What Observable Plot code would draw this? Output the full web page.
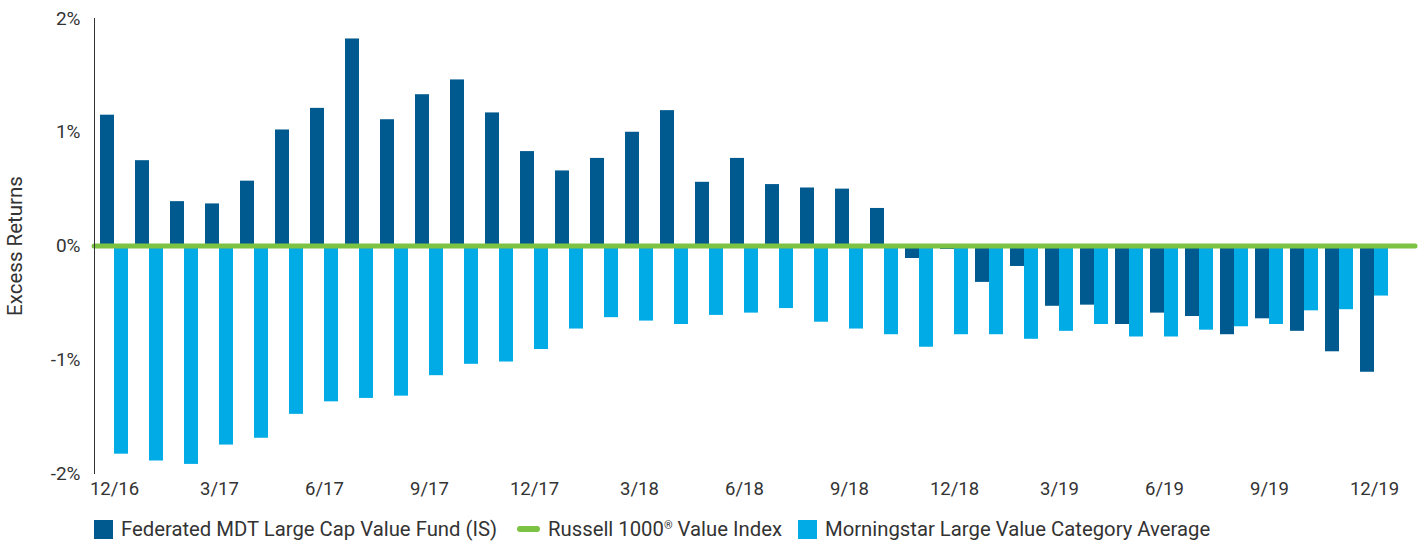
<!DOCTYPE html>
<html>
<head>
<meta charset="utf-8">
<script src="https://cdn.jsdelivr.net/npm/d3@7"></script>
<script src="https://cdn.jsdelivr.net/npm/@observablehq/plot@0.6"></script>
<style>
  html, body { margin: 0; padding: 0; background: #fff; }
  #chart svg { display: block; }
  #legend { display: flex; align-items: center; padding-left: 94px; margin-top: 12px; font-family: Roboto, sans-serif; font-size: 20.3px; color: #333; white-space: nowrap; }
  #legend .sw { display: inline-block; width: 19px; height: 19px; margin-right: 8px; }
  #legend .ln { display: inline-block; width: 23px; height: 6px; border-radius: 3px; margin-right: 8px; }
  #legend .item { display: flex; align-items: center; margin-right: 20px; }
  #legend .item.idx { margin-right: 16px; }
  #legend sup { font-size: 11px; position: relative; top: -4px; }
</style>
</head>
<body>
<div id="chart"></div>
<div id="legend"></div>
<script>
const months = ["12/16","1/17","2/17","3/17","4/17","5/17","6/17","7/17","8/17","9/17","10/17","11/17","12/17",
  "1/18","2/18","3/18","4/18","5/18","6/18","7/18","8/18","9/18","10/18","11/18","12/18",
  "1/19","2/19","3/19","4/19","5/19","6/19","7/19","8/19","9/19","10/19","11/19","12/19"];
const fundValues = [1.15,0.75,0.39,0.37,0.57,1.02,1.21,1.82,1.11,1.33,1.46,1.17,0.83,
  0.66,0.77,1.00,1.19,0.56,0.77,0.54,0.51,0.50,0.33,-0.11,-0.03,
  -0.32,-0.18,-0.53,-0.52,-0.69,-0.59,-0.62,-0.78,-0.64,-0.75,-0.93,-1.11];
const categoryValues = [-1.83,-1.89,-1.92,-1.75,-1.69,-1.48,-1.37,-1.34,-1.32,-1.14,-1.04,-1.02,-0.91,
  -0.73,-0.63,-0.66,-0.69,-0.61,-0.59,-0.55,-0.67,-0.73,-0.78,-0.89,-0.78,
  -0.78,-0.82,-0.75,-0.69,-0.80,-0.80,-0.74,-0.71,-0.69,-0.57,-0.56,-0.44];
const indexValue = [0];
const xTickLabels = ["12/16","3/17","6/17","9/17","12/17","3/18","6/18","9/18","12/18","3/19","6/19","9/19","12/19"];
const yTicks = [-2,-1,0,1,2];
const seriesNames = ["Federated MDT Large Cap Value Fund (IS)", "Russell 1000® Value Index", "Morningstar Large Value Category Average"];
const colors = ["#005a8f", "#7cc243", "#00abe6"];

const data = months.map((m, i) => ({month: m, fund: fundValues[i], category: categoryValues[i]}));

const chart = Plot.plot({
  width: 1425,
  height: 505,
  marginLeft: 94,
  marginRight: 10,
  marginTop: 18,
  marginBottom: 32,
  style: {fontFamily: "Roboto, sans-serif", fontSize: "18px", color: "#333", background: "#fff"},
  x: {type: "band", domain: months, paddingInner: 0.206, paddingOuter: 0.33, align: 0.17, label: null},
  y: {domain: [-2, 2], label: null},
  marks: [
    Plot.barY(data, {x: "month", y: "fund", fill: colors[0], insetRight: 14}),
    Plot.barY(data, {x: "month", y: "category", fill: colors[2], insetLeft: 14}),
    Plot.ruleY(indexValue, {stroke: colors[1], strokeWidth: 5, strokeLinecap: "round"}),
    Plot.frame({anchor: "left", stroke: "#333"}),
    Plot.axisY({ticks: yTicks, tickSize: 0, tickPadding: 14, tickFormat: d => `${d}%`, label: null, fontSize: 19}),
    Plot.axisY({ticks: [], label: "Excess Returns", labelAnchor: "center", labelArrow: "none", labelOffset: 87, fontSize: 20.5}),
    Plot.axisX({ticks: xTickLabels, tickSize: 0, tickPadding: 8, label: null, fontSize: 18.5})
  ]
});
document.getElementById("chart").appendChild(chart);

const legend = document.getElementById("legend");
legend.innerHTML = `
  <span class="item"><span class="sw" style="background:${colors[0]}"></span>${seriesNames[0]}</span>
  <span class="item idx"><span class="ln" style="background:${colors[1]}"></span>Russell 1000<sup>®</sup>&nbsp;Value Index</span>
  <span class="item"><span class="sw" style="background:${colors[2]}"></span>${seriesNames[2]}</span>
`;
</script>
</body>
</html>
